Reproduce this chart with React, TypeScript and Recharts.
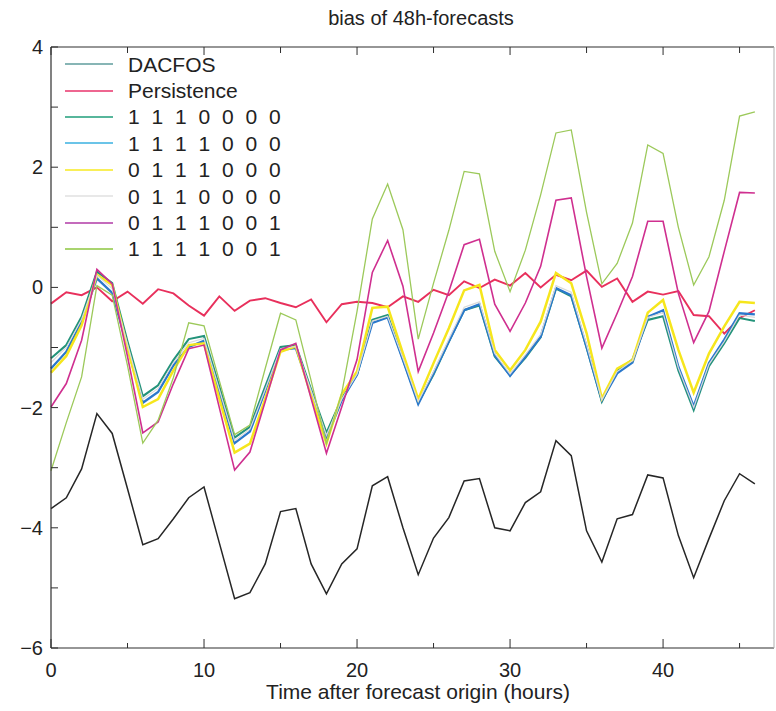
import { LineChart, Line, XAxis, YAxis } from "recharts";

const HOURS = [
  0, 1, 2, 3, 4, 5, 6, 7, 8, 9, 10, 11, 12, 13, 14, 15, 16, 17, 18, 19, 20, 21, 22, 23,
  24, 25, 26, 27, 28, 29, 30, 31, 32, 33, 34, 35, 36, 37, 38, 39, 40, 41, 42, 43, 44, 45, 46,
];

const DACFOS = [
  -3.68, -3.5, -3.02, -2.1, -2.43, -3.35, -4.28, -4.18, -3.85, -3.5, -3.32, -4.25, -5.18,
  -5.08, -4.6, -3.73, -3.68, -4.6, -5.1, -4.6, -4.35, -3.3, -3.15, -4.0, -4.78, -4.17,
  -3.83, -3.22, -3.18, -4.0, -4.05, -3.58, -3.4, -2.55, -2.8, -4.05, -4.57, -3.85, -3.78,
  -3.12, -3.17, -4.13, -4.83, -4.18, -3.55, -3.1, -3.27,
];

const PERSISTENCE = [
  -0.27, -0.08, -0.13, 0.0, -0.23, -0.07, -0.27, -0.03, -0.1, -0.3, -0.47, -0.15, -0.39,
  -0.22, -0.18, -0.26, -0.33, -0.2, -0.58, -0.28, -0.24, -0.26, -0.33, -0.15, -0.24, -0.04,
  -0.13, 0.1, -0.01, 0.13, 0.03, 0.24, 0.0, 0.21, 0.12, 0.28, 0.01, 0.15, -0.24, -0.07,
  -0.12, -0.06, -0.46, -0.48, -0.77, -0.51, -0.38,
];

const RUN_1110000 = [
  -1.18, -0.96, -0.49, 0.26, 0.07, -0.9, -1.81, -1.63, -1.21, -0.86, -0.81, -1.65, -2.5,
  -2.32, -1.65, -0.99, -0.96, -1.7, -2.42, -1.85, -1.45, -0.54, -0.46, -1.2, -1.92, -1.45,
  -0.9, -0.38, -0.3, -1.15, -1.46, -1.17, -0.83, -0.02, -0.15, -1.0, -1.9, -1.38, -1.2,
  -0.54, -0.48, -1.38, -2.04, -1.31, -0.93, -0.51, -0.56,
];

const RUN_1111000 = [
  -1.35, -1.07, -0.57, 0.15, -0.09, -1.0, -1.92, -1.74, -1.3, -0.99, -0.89, -1.75, -2.59,
  -2.4, -1.72, -1.04, -1.01, -1.75, -2.51, -1.88, -1.45, -0.59, -0.5, -1.21, -1.94, -1.43,
  -0.9, -0.38, -0.28, -1.13, -1.47, -1.15, -0.82, -0.01, -0.13, -0.99, -1.88, -1.43, -1.25,
  -0.49, -0.38, -1.32, -1.98, -1.26, -0.87, -0.43, -0.45,
];

const RUN_0111000 = [
  -1.42, -1.14, -0.63, 0.21, 0.04, -1.0, -1.99, -1.86, -1.38, -0.96, -0.93, -1.85, -2.75,
  -2.6, -1.85, -1.07, -0.98, -1.8, -2.6, -1.78, -1.4, -0.34, -0.32, -1.1, -1.86, -1.26,
  -0.68, -0.05, 0.04, -1.04, -1.38, -1.04, -0.57, 0.24, 0.07, -0.76, -1.85, -1.35, -1.21,
  -0.42, -0.21, -1.04, -1.75, -1.1, -0.65, -0.24, -0.26,
];

const RUN_0110000 = [
  -1.25, -1.0, -0.53, 0.2, -0.02, -0.95, -1.86, -1.68, -1.25, -0.92, -0.85, -1.7, -2.55,
  -2.36, -1.7, -1.02, -0.98, -1.72, -2.46, -1.86, -1.44, -0.56, -0.48, -1.18, -1.9, -1.4,
  -0.86, -0.33, -0.24, -1.1, -1.44, -1.12, -0.78, 0.03, -0.08, -0.95, -1.87, -1.4, -1.22,
  -0.5, -0.42, -1.34, -2.0, -1.28, -0.9, -0.46, -0.5,
];

const RUN_0111001 = [
  -1.99, -1.6, -0.88, 0.3, 0.06, -1.15, -2.42, -2.24, -1.6, -1.02, -0.96, -2.0, -3.04,
  -2.74, -1.9, -1.04, -0.93, -1.85, -2.76, -1.99, -1.2, 0.25, 0.78, 0.02, -1.4, -0.76,
  -0.07, 0.71, 0.8, -0.28, -0.73, -0.26, 0.35, 1.45, 1.49, 0.18, -1.01, -0.43, 0.18, 1.1,
  1.1, -0.1, -0.92, -0.4, 0.6, 1.58, 1.57,
];

const RUN_1111001 = [
  -3.05, -2.25, -1.49, 0.03, -0.13, -1.3, -2.59, -2.21, -1.5, -0.59, -0.64, -1.55, -2.45,
  -2.29, -1.35, -0.43, -0.54, -1.55, -2.6, -1.76, -0.4, 1.14, 1.72, 0.96, -0.86, 0.07, 0.95,
  1.93, 1.89, 0.6, -0.07, 0.62, 1.54, 2.57, 2.62, 1.25, 0.06, 0.4, 1.07, 2.37, 2.23, 1.0,
  0.04, 0.51, 1.45, 2.85, 2.92,
];

const X_TICKS = [0, 5, 10, 15, 20, 25, 30, 35, 40, 45];
const Y_TICKS = [-6, -5, -4, -3, -2, -1, 0, 1, 2, 3, 4];

const FONT = "'Liberation Sans', Arial, Helvetica, sans-serif";
const AXIS = "#2e2e2e";

// name, values, line colour, legend colour, width
const SERIES = [
  { key: "dacfos", name: "DACFOS", values: DACFOS, stroke: "#262626", legend: "#5f9c9c", width: 1.5 },
  { key: "persistence", name: "Persistence", values: PERSISTENCE, stroke: "#e8305c", legend: "#e8336b", width: 1.9 },
  { key: "r1110000", name: "1 1 1 0 0 0 0", values: RUN_1110000, stroke: "#23937a", legend: "#1f9e7a", width: 2.1 },
  { key: "r1111000", name: "1 1 1 1 0 0 0", values: RUN_1111000, stroke: "#2a78cc", legend: "#3ab0e0", width: 2.3 },
  { key: "r0111000", name: "0 1 1 1 0 0 0", values: RUN_0111000, stroke: "#f6e61c", legend: "#f7ea20", width: 2.5 },
  { key: "r0110000", name: "0 1 1 0 0 0 0", values: RUN_0110000, stroke: "#dadada", legend: "#e0e0e0", width: 1.2 },
  { key: "r0111001", name: "0 1 1 1 0 0 1", values: RUN_0111001, stroke: "#cf2f8f", legend: "#b03aa6", width: 1.6 },
  { key: "r1111001", name: "1 1 1 1 0 0 1", values: RUN_1111001, stroke: "#9cc95a", legend: "#8cc63f", width: 1.3 },
];

const data = HOURS.map((h, i) => {
  const row: Record<string, number> = { h };
  SERIES.forEach((s) => {
    row[s.key] = s.values[i];
  });
  return row;
});

const fmt = (v: number) => (v < 0 ? `\u2212${Math.abs(v)}` : `${v}`);

function BottomTick({ x, y, payload }: any) {
  const major = payload.value % 10 === 0;
  return (
    <g>
      <line x1={x} x2={x} y1={y} y2={y - (major ? 9 : 5)} stroke={AXIS} />
      {major && (
        <text x={x} y={y + 29} textAnchor="middle" fontSize={20} fontFamily={FONT} fill="#222">
          {payload.value}
        </text>
      )}
    </g>
  );
}

function TopTick({ x, y, payload }: any) {
  const major = payload.value % 10 === 0;
  return <line x1={x} x2={x} y1={y} y2={y + (major ? 8 : 6)} stroke={AXIS} />;
}

function LeftTick({ x, y, payload }: any) {
  const even = payload.value % 2 === 0;
  return (
    <g>
      <line x1={x} x2={x + 7} y1={y} y2={y} stroke={AXIS} />
      {even && (
        <text x={x - 8} y={y + 7} textAnchor="end" fontSize={20} fontFamily={FONT} fill="#222">
          {fmt(payload.value)}
        </text>
      )}
    </g>
  );
}

function LegendBox() {
  return (
    <div
      style={{
        position: "absolute",
        left: 65,
        top: 51,
        fontFamily: FONT,
        fontSize: 21,
        color: "#222",
        pointerEvents: "none",
      }}
    >
      {SERIES.map((s) => (
        <div key={s.key} style={{ display: "flex", alignItems: "center", height: 26.4 }}>
          <svg width={48} height={4} style={{ display: "block" }}>
            <line x1={0} x2={48} y1={2} y2={2} stroke={s.legend} strokeWidth={1.5} />
          </svg>
          <span
            style={{
              marginLeft: 15,
              letterSpacing: /^[01 ]+$/.test(s.name) ? 3 : 0,
              lineHeight: 1,
              whiteSpace: "nowrap",
            }}
          >
            {s.name}
          </span>
        </div>
      ))}
    </div>
  );
}

export default function App() {
  return (
    <div style={{ position: "absolute", left: 0, top: 0, width: 776, height: 711, background: "#fff" }}>
      <div
        style={{
          position: "absolute",
          left: 421,
          top: 7,
          transform: "translateX(-50%)",
          fontFamily: FONT,
          fontSize: 20,
          lineHeight: "22px",
          color: "#222",
          whiteSpace: "nowrap",
        }}
      >
        bias of 48h-forecasts
      </div>
      <LineChart width={776} height={711} data={data} margin={{ top: 46, right: 0, bottom: 0, left: 0 }}>
        <XAxis
          dataKey="h"
          type="number"
          domain={[0, 47.25]}
          ticks={X_TICKS}
          height={63}
          tickSize={0}
          tickMargin={0}
          tickLine={false}
          axisLine={{ stroke: AXIS, strokeWidth: 1.2 }}
          tick={<BottomTick />}
          interval={0}
        />
        <XAxis
          xAxisId="top"
          dataKey="h"
          type="number"
          orientation="top"
          domain={[0, 47.25]}
          ticks={X_TICKS}
          height={1}
          tickSize={0}
          tickMargin={0}
          tickLine={false}
          axisLine={{ stroke: AXIS, strokeWidth: 1.2 }}
          tick={<TopTick />}
          interval={0}
        />
        <YAxis
          type="number"
          domain={[-6, 4]}
          ticks={Y_TICKS}
          width={51}
          tickSize={0}
          tickMargin={0}
          tickLine={false}
          axisLine={{ stroke: AXIS, strokeWidth: 1.2 }}
          tick={<LeftTick />}
          interval={0}
        />
        <YAxis
          yAxisId="right"
          orientation="right"
          type="number"
          domain={[-6, 4]}
          width={2}
          tick={false}
          tickLine={false}
          axisLine={{ stroke: "#b0b0b0" }}
        />
        {SERIES.map((s) => (
          <Line
            key={s.key}
            dataKey={s.key}
            name={s.name}
            type="linear"
            stroke={s.stroke}
            strokeWidth={s.width}
            dot={false}
            activeDot={false}
            isAnimationActive={false}
          />
        ))}
      </LineChart>
      <LegendBox />
      <div
        style={{
          position: "absolute",
          left: 418,
          top: 680,
          transform: "translateX(-50%)",
          fontFamily: FONT,
          fontSize: 21,
          lineHeight: "24px",
          color: "#222",
          whiteSpace: "nowrap",
        }}
      >
        Time after forecast origin (hours)
      </div>
    </div>
  );
}
